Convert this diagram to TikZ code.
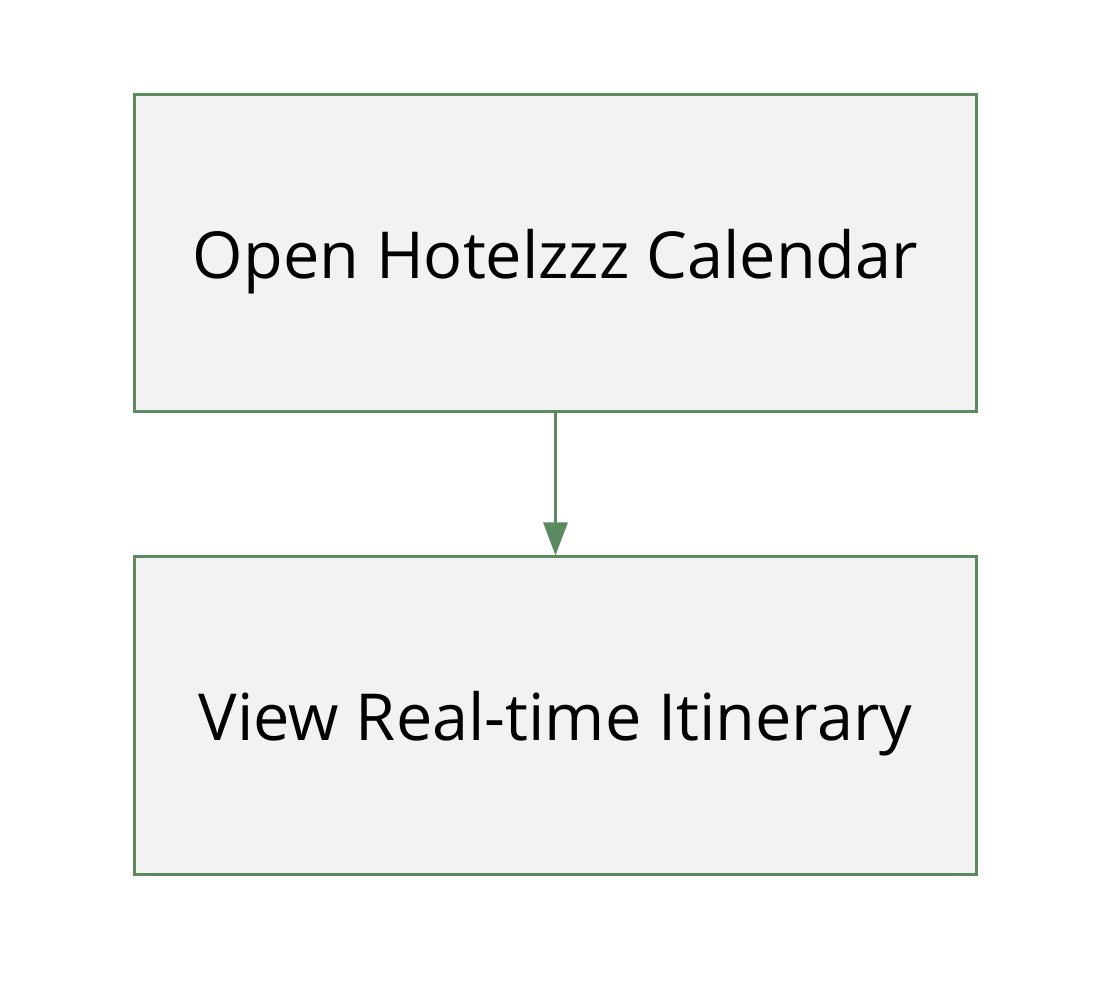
\documentclass[tikz,border=0pt]{standalone}
\usepackage{fontspec}
\setmainfont{Open Sans}
\definecolor{stepgreen}{HTML}{5B8A60}
\definecolor{stepfill}{HTML}{F2F2F2}
\usetikzlibrary{arrows.meta, positioning, calc}

\begin{document}
\begin{tikzpicture}[node distance=71pt,
  stepbox/.style={rectangle,draw=stepgreen,fill=stepfill,line width=1.5pt,minimum width=420.5pt,minimum height=158.5pt,text depth=0pt,font=\fontsize{32.4}{38}\selectfont}]
\useasboundingbox (-277.75pt,-367.75pt) rectangle (281.75pt,126.75pt);
\node[stepbox] (open) {Open Hotelzzz Calendar};
\node[stepbox, below=of open] (view) {View Real-time Itinerary};
\draw[-{Triangle[length=16.5pt,width=12pt]},line width=1.5pt,draw=stepgreen,fill=stepgreen] (open) -- (view);
\end{tikzpicture}
\end{document}
